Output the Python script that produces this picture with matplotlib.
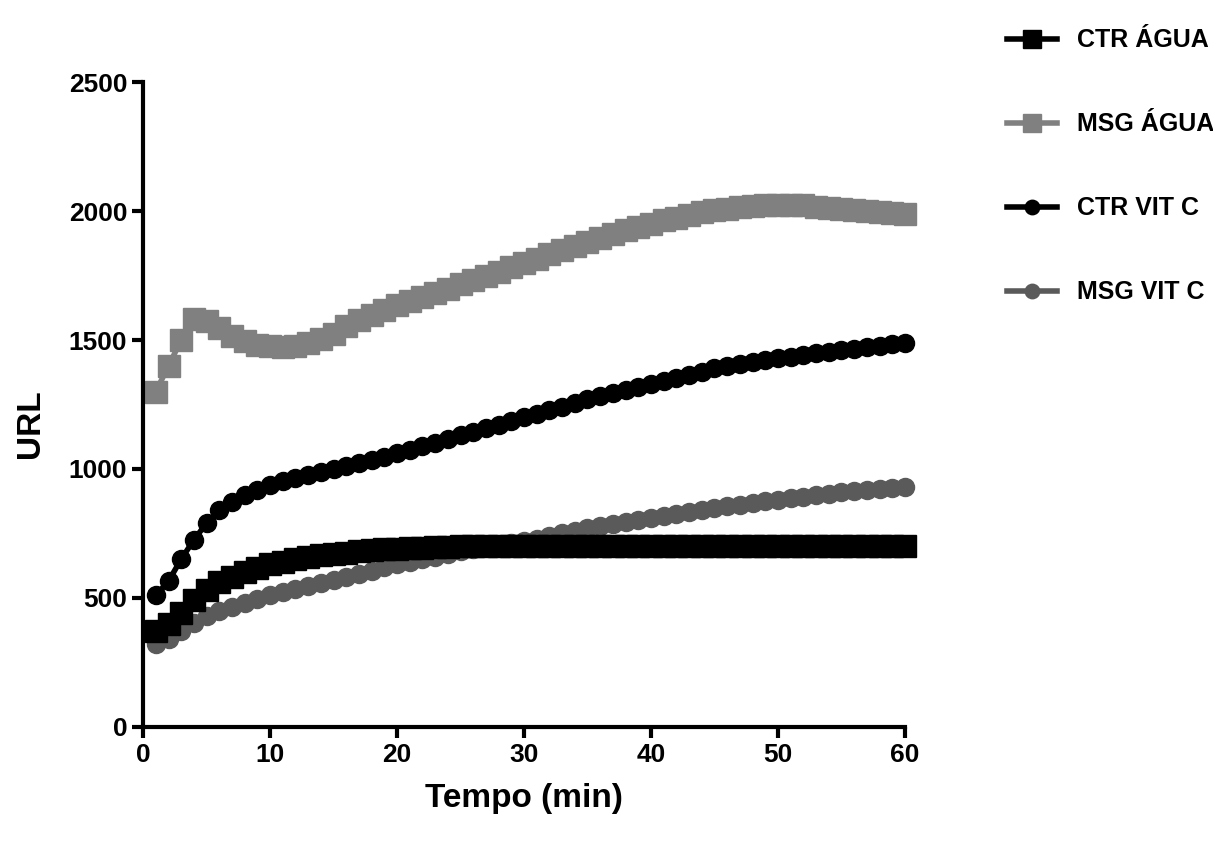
import matplotlib
matplotlib.use("Agg")
import matplotlib.pyplot as plt

plt.rcParams['font.family'] = ['Liberation Sans', 'DejaVu Sans']
plt.rcParams['font.weight'] = 'bold'

tempo = list(range(1, 61))

ctr_agua = [370, 400, 440, 490, 530, 560, 580, 600, 615, 630,
            640, 650, 658, 665, 670, 675, 680, 684, 688, 690,
            693, 695, 697, 698, 700, 700, 700, 700, 700, 700,
            700, 700, 700, 700, 700, 700, 700, 700, 700, 700,
            700, 700, 700, 700, 700, 700, 700, 700, 700, 700,
            700, 700, 700, 700, 700, 700, 700, 700, 700, 700]

msg_agua = [1300, 1400, 1500, 1580, 1575, 1545, 1515, 1495, 1482, 1476,
            1475, 1478, 1488, 1505, 1525, 1555, 1578, 1598, 1618, 1635,
            1652, 1668, 1684, 1700, 1716, 1732, 1748, 1765, 1782, 1798,
            1815, 1832, 1848, 1864, 1880, 1895, 1910, 1925, 1940, 1952,
            1964, 1975, 1985, 1995, 2003, 2010, 2016, 2020, 2024, 2025,
            2025, 2022, 2018, 2013, 2008, 2004, 2000, 1996, 1993, 1990]

ctr_vitc = [510, 565, 650, 725, 790, 840, 872, 900, 920, 938,
            952, 965, 976, 988, 1000, 1012, 1024, 1036, 1048, 1060,
            1074, 1088, 1102, 1116, 1130, 1144, 1158, 1172, 1186, 1200,
            1214, 1228, 1242, 1256, 1270, 1282, 1294, 1306, 1318, 1330,
            1342, 1354, 1366, 1378, 1390, 1398, 1406, 1414, 1422, 1430,
            1436, 1442, 1448, 1454, 1460, 1466, 1472, 1478, 1484, 1490]

msg_vitc = [320, 342, 372, 402, 430, 450, 466, 480, 495, 510,
            522, 534, 546, 558, 570, 582, 594, 606, 618, 630,
            640, 650, 660, 670, 680, 688, 696, 704, 712, 720,
            730, 740, 750, 760, 770, 778, 786, 794, 802, 810,
            818, 826, 834, 842, 850, 856, 862, 868, 874, 880,
            886, 892, 898, 904, 910, 914, 918, 922, 926, 930]

fig = plt.figure(figsize=(12.13, 8.57), dpi=100)
ax = fig.add_axes([0.118, 0.152, 0.628, 0.752])

ax.plot(tempo, msg_agua, '-s', color='#808080', ms=16, lw=4, clip_on=False, label='MSG ÁGUA')
ax.plot(tempo, ctr_vitc, '-o', color='black', ms=13, lw=4, clip_on=False, label='CTR VIT C')
ax.plot(tempo, msg_vitc, '-o', color='#5a5a5a', ms=13, lw=4, clip_on=False, label='MSG VIT C')
ax.plot(tempo, ctr_agua, '-s', color='black', ms=16, lw=4, clip_on=False, label='CTR ÁGUA')

ax.set_xlim(0, 60)
ax.set_ylim(0, 2500)
ax.set_xticks(range(0, 61, 10))
ax.set_yticks(range(0, 2501, 500))

for s in ['top', 'right']:
    ax.spines[s].set_visible(False)
for s in ['left', 'bottom']:
    ax.spines[s].set_linewidth(3)
ax.tick_params(width=3, length=8, labelsize=19, direction='out')
for lab in ax.get_xticklabels() + ax.get_yticklabels():
    lab.set_fontweight('bold')

ax.set_xlabel('Tempo (min)', fontsize=24, fontweight='bold', labelpad=12)
ax.set_ylabel('URL', fontsize=24, fontweight='bold')
ax.yaxis.set_label_coords(-0.128, 0.47)

h, l = ax.get_legend_handles_labels()
order = [3, 0, 1, 2]
fig.legend([h[i] for i in order], [l[i] for i in order],
           loc='upper left', bbox_to_anchor=(0.812, 0.993), frameon=False,
           fontsize=18, labelspacing=2.4, handlelength=2.0, handletextpad=0.8,
           markerscale=0.8)

fig.savefig('out.png', dpi=100)
